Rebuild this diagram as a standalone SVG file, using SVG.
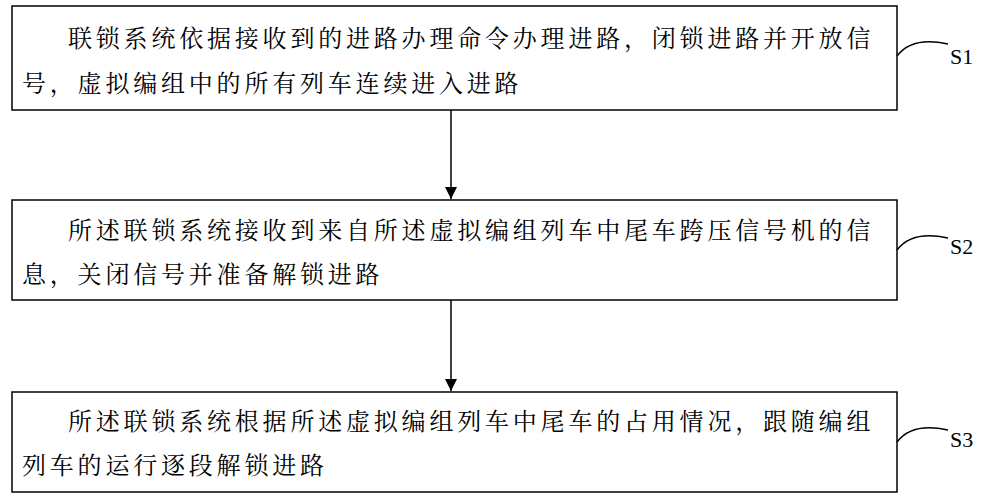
<svg xmlns="http://www.w3.org/2000/svg" width="990" height="500" viewBox="0 0 990 500">
<style>
.box{fill:#fff;stroke:#000;stroke-width:1.5}
.t{font-family:"Liberation Serif","Noto Serif CJK SC","Noto Sans CJK SC",serif;font-size:24px;letter-spacing:3.8px;fill:#000}
.s{font-family:"Liberation Serif",serif;font-size:22px;fill:#000}
.c{fill:none;stroke:#000;stroke-width:1.5}
</style>
<defs><marker id="a" markerWidth="12" markerHeight="16" refX="12" refY="6" orient="auto" markerUnits="userSpaceOnUse"><path d="M0,0 L12,6 L0,12 Z"/></marker></defs>
<rect width="990" height="500" fill="#fff"/>
<g id="s1"><rect class="box" x="12" y="6" width="885" height="104"/>
<text class="t" x="68" y="47">联锁系统依据接收到的进路办理命令办理进路，闭锁进路并开放信</text>
<text class="t" x="22" y="92">号，虚拟编组中的所有列车连续进入进路</text></g>
<g id="s2"><rect class="box" x="12" y="200" width="885" height="100"/>
<text class="t" x="68" y="239">所述联锁系统接收到来自所述虚拟编组列车中尾车跨压信号机的信</text>
<text class="t" x="22" y="283">息，关闭信号并准备解锁进路</text></g>
<g id="s3"><rect class="box" x="12" y="392" width="885" height="100"/>
<text class="t" x="68" y="430">所述联锁系统根据所述虚拟编组列车中尾车的占用情况，跟随编组</text>
<text class="t" x="22" y="474">列车的运行逐段解锁进路</text></g>
<g id="labels">
<text class="s" x="950" y="64">S1</text>
<text class="s" x="950" y="254">S2</text>
<text class="s" x="950" y="447">S3</text></g>
<g id="connectors">
<line class="c" x1="451" y1="110" x2="451" y2="199" marker-end="url(#a)"/>
<line class="c" x1="451" y1="300" x2="451" y2="391" marker-end="url(#a)"/>
<path class="c" d="M897,56 Q912,36 948,44"/>
<path class="c" d="M897,250 Q912,230 948,238"/>
<path class="c" d="M897,442 Q912,422 948,430"/>
</g>
</svg>
